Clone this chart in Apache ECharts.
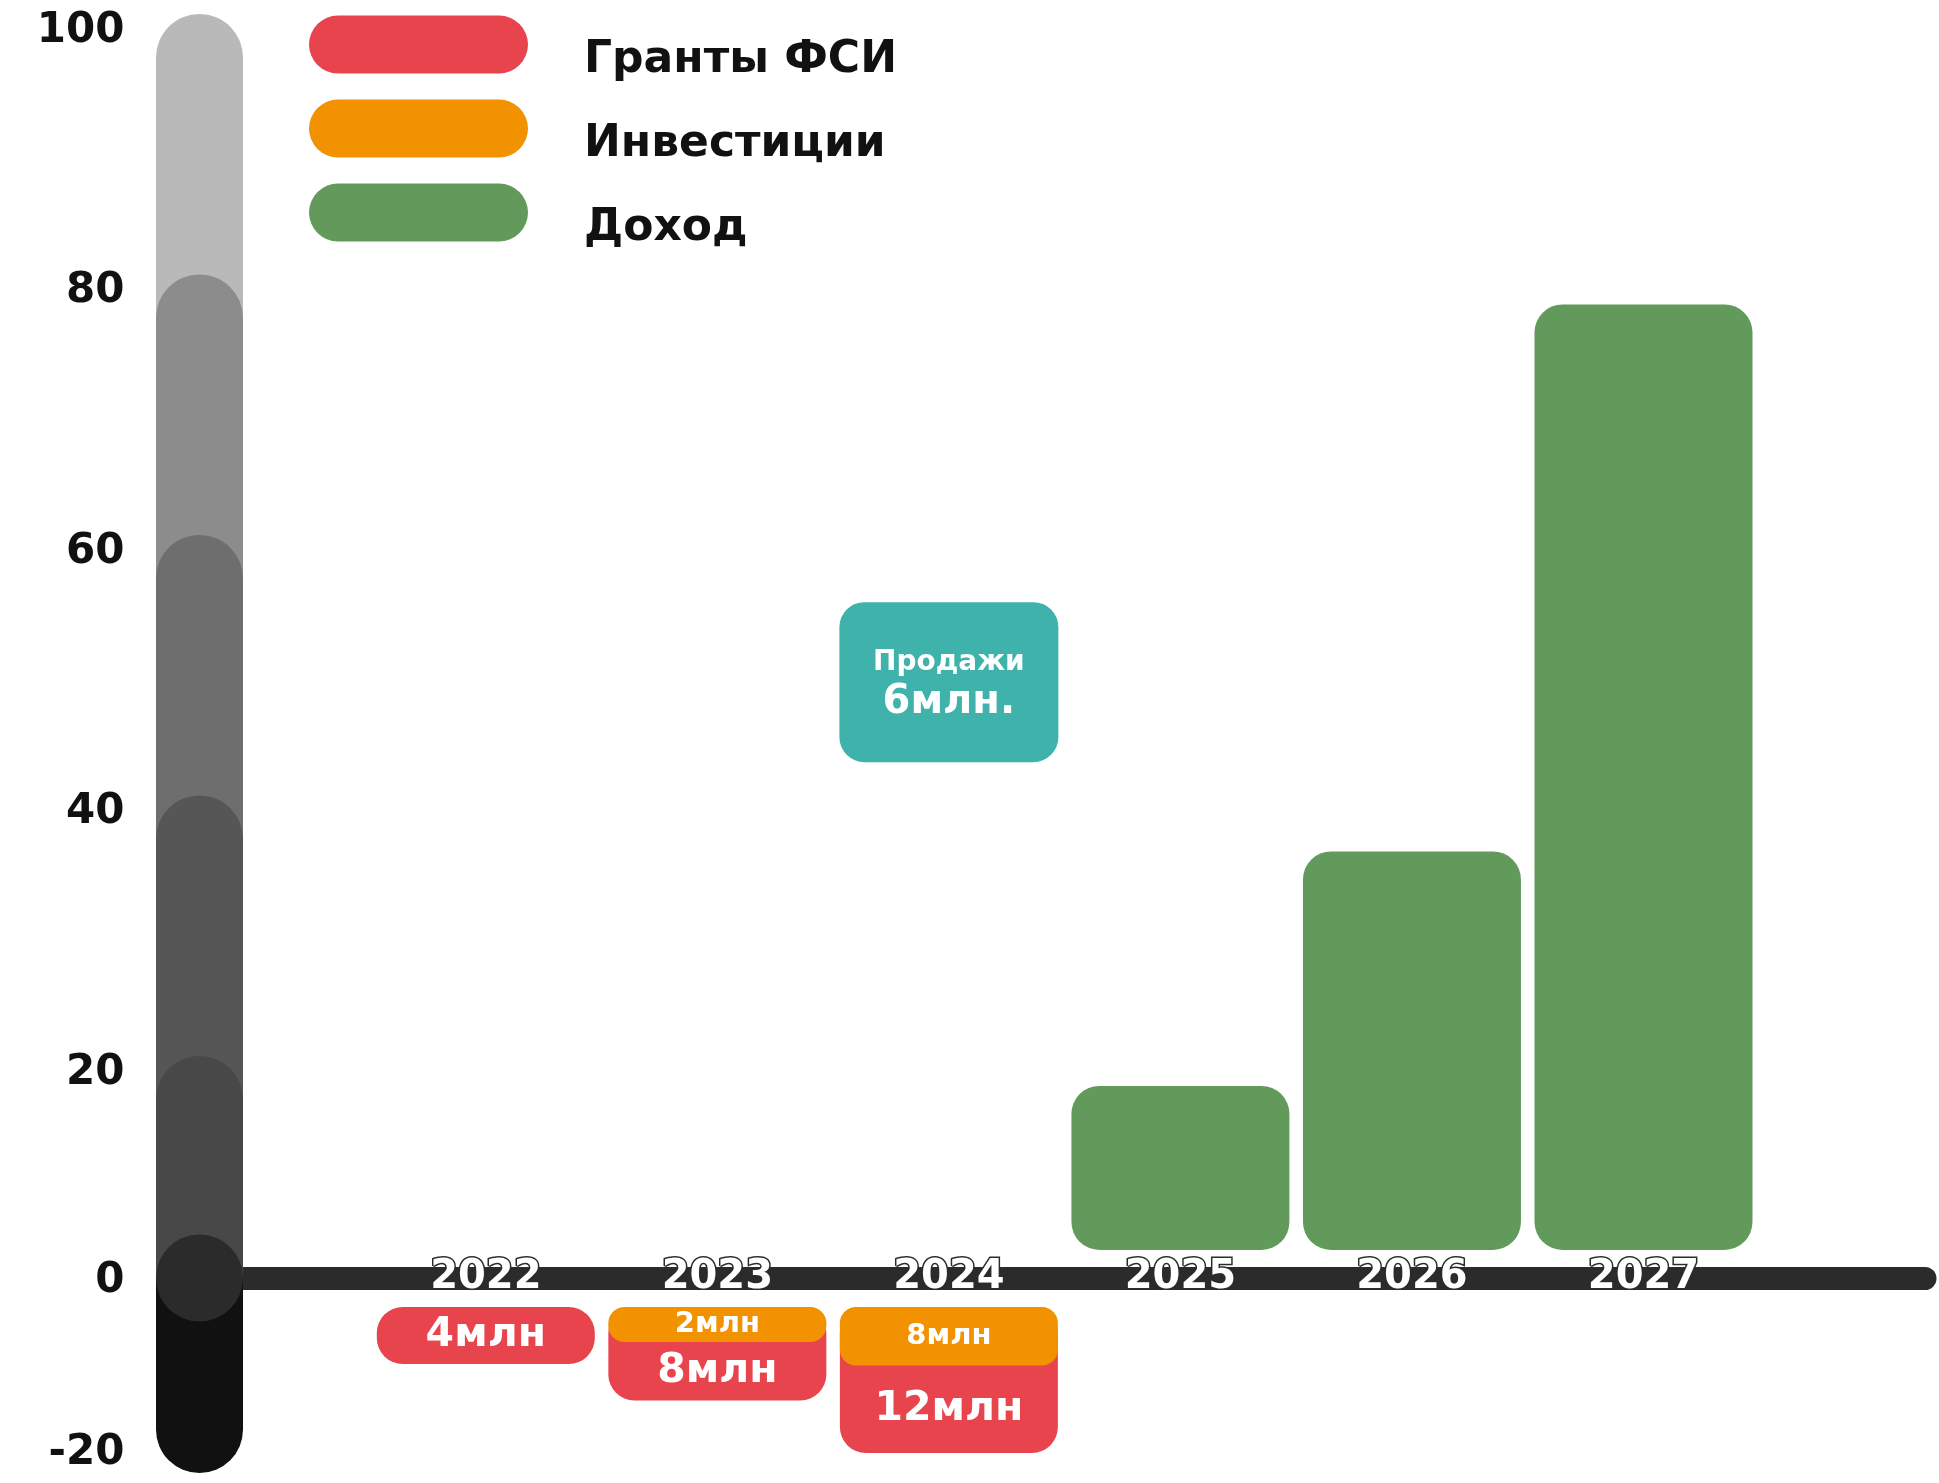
<!DOCTYPE html>
<html><head><meta charset="utf-8">
<script src="https://cdn.jsdelivr.net/npm/echarts@6/dist/echarts.min.js"></script>
<style>html,body{margin:0;padding:0;background:#fff}#chart{width:1939px;height:1483px}</style>
</head><body><div id="chart"></div>
<script>
// ---- data ----
const years = [2022, 2023, 2024, 2025, 2026, 2027];
const grants = [4, 8, 12, null, null, null];        // млн, Гранты ФСИ
const investments = [null, 2, 8, null, null, null]; // млн, Инвестиции
const revenue = [null, null, null, 19, 37, 79];     // Доход
const salesYear = 2024;
const sales = 6;                                    // Продажи, млн
const yTicks = [100, 80, 60, 40, 20, 0];
const negTicks = [-20];

// ---- styles / layout ----
const RED = '#e8444d', ORANGE = '#f29200', GREEN = '#629a5c', TEAL = '#3eb2ab', DARK = '#2b2b2b';
const scaleColors = ['#b9b9b9', '#8c8c8c', '#6e6e6e', '#565656', '#484848'];
const FONT = 'DejaVu Sans';
const X_MIN = 2020.7635, X_MAX = 2028.2158;
const BAR_W = 218, COL_W = 87, CAP = 17, AXIS_OFFSET = 28, LOWER_GAP = 29;
const MIN_INV_H = 35, MIN_GRANT_H = 57, BOX_Y = 50;
const PILL = 'path://M29,0H190A29,29,0,0,1,190,58H29A29,29,0,0,1,29,0Z';

const chart = echarts.init(document.getElementById('chart'));

const revData = years.map((y, i) => revenue[i] == null ? null : [y, revenue[i]]).filter(Boolean);
const grantData = years.map((y, i) => grants[i] == null ? null : [y, -grants[i], -(investments[i] || 0)]).filter(Boolean);
const invData = years.map((y, i) => investments[i] == null ? null : [y, -investments[i]]).filter(Boolean);

const yLabelStyle = { fontSize: 42, fontWeight: 'bold', color: '#111', fontFamily: FONT };

chart.setOption({
  animation: false,
  backgroundColor: '#fff',
  textStyle: { fontFamily: FONT },
  legend: {
    orient: 'vertical', left: 309, top: 6, padding: 0,
    itemWidth: 219, itemHeight: 58, itemGap: 7,
    formatter: name => '\n' + name,
    textStyle: { fontSize: 44, fontWeight: 'bold', color: '#111', fontFamily: FONT, lineHeight: 33, padding: [0, 0, 0, 51] },
    data: [
      { name: 'Гранты ФСИ', icon: PILL, itemStyle: { color: RED } },
      { name: 'Инвестиции', icon: PILL, itemStyle: { color: ORANGE } },
      { name: 'Доход', icon: PILL, itemStyle: { color: GREEN } }
    ]
  },
  grid: [
    { left: 199.5, right: 14, top: 31, bottom: 1483 - 1250 },
    { left: 199.5, right: 14, top: 1307, bottom: 30 }
  ],
  xAxis: [
    {
      gridIndex: 0, type: 'value', min: X_MIN, max: X_MAX, position: 'bottom', offset: AXIS_OFFSET,
      axisLine: { show: true, onZero: false, lineStyle: { color: DARK, width: 23, cap: 'round' } },
      axisTick: { show: false }, splitLine: { show: false },
      axisLabel: {
        customValues: years, margin: 0, verticalAlign: 'middle',
        color: '#fff', fontSize: 40, fontWeight: 'bold', fontFamily: FONT,
        textBorderColor: DARK, textBorderWidth: 3,
        formatter: v => String(Math.round(v))
      }
    },
    { gridIndex: 1, type: 'value', min: X_MIN, max: X_MAX, show: false }
  ],
  yAxis: [
    {
      gridIndex: 0, type: 'value', min: 0, max: 100,
      breaks: [{ start: 6, end: 12.4, gap: 0 }],
      breakArea: { show: false },
      axisLine: { show: false }, axisTick: { show: false }, splitLine: { show: false },
      axisLabel: Object.assign({
        customValues: yTicks, margin: 75, lineHeight: 62,
        formatter: v => v === 0 ? '\n0' : String(v)
      }, yLabelStyle)
    },
    {
      gridIndex: 1, type: 'value', min: -20, max: 0,
      axisLine: { show: false }, axisTick: { show: false }, splitLine: { show: false },
      axisLabel: Object.assign({ customValues: negTicks, margin: 75 }, yLabelStyle)
    }
  ],
  series: [
    {
      name: 'scale', type: 'custom', xAxisIndex: 0, yAxisIndex: 0, z: 1, silent: true,
      data: yTicks.filter(v => v > 0).map(v => [X_MIN, v]),
      renderItem: (params, api) => {
        const top = api.coord([api.value(0), api.value(1)]);
        const base = api.coord([api.value(0), 0]);
        const yTop = top[1] - CAP, yBot = base[1] + AXIS_OFFSET;
        return { type: 'rect', shape: { x: top[0] - COL_W / 2, y: yTop, width: COL_W, height: yBot - yTop, r: [COL_W / 2, COL_W / 2, 0, 0] },
                 style: { fill: scaleColors[params.dataIndex] } };
      }
    },
    {
      name: 'scaleNeg', type: 'custom', xAxisIndex: 1, yAxisIndex: 1, z: 3, silent: true,
      data: negTicks.map(v => [X_MIN, v]),
      renderItem: (params, api) => {
        const bot = api.coord([api.value(0), api.value(1)]);
        const zero = api.coord([api.value(0), 0]);
        const yTop = zero[1] - LOWER_GAP, yBot = bot[1] + 20;
        return { type: 'group', children: [
          { type: 'rect', shape: { x: bot[0] - COL_W / 2, y: yTop, width: COL_W, height: yBot - yTop, r: [0, 0, COL_W / 2, COL_W / 2] }, style: { fill: '#111' } },
          { type: 'circle', shape: { cx: bot[0], cy: yTop, r: COL_W / 2 }, style: { fill: DARK } }
        ] };
      }
    },
    {
      name: 'Доход', type: 'bar', xAxisIndex: 0, yAxisIndex: 0, z: 2,
      barWidth: BAR_W, data: revData,
      itemStyle: { color: GREEN, borderRadius: 28 }
    },
    {
      name: 'Гранты ФСИ', type: 'custom', xAxisIndex: 1, yAxisIndex: 1, z: 2,
      itemStyle: { color: RED },
      data: grantData,
      renderItem: (params, api) => {
        const p = api.coord([api.value(0), 0]);
        const g = -api.value(1), inv = -api.value(2);
        const hO = inv ? Math.max(api.size([0, inv])[1], MIN_INV_H) : 0;
        const hR = Math.max(api.size([0, g])[1], MIN_GRANT_H);
        const y0 = p[1];
        return { type: 'group', children: [
          { type: 'rect', shape: { x: p[0] - BAR_W / 2, y: y0, width: BAR_W, height: hO + hR, r: 26 }, style: { fill: RED } },
          { type: 'text', style: { x: p[0], y: y0 + hO + hR / 2, text: g + 'млн', fill: '#fff', font: 'bold 41px "DejaVu Sans"', align: 'center', verticalAlign: 'middle' } }
        ] };
      }
    },
    {
      name: 'Инвестиции', type: 'custom', xAxisIndex: 1, yAxisIndex: 1, z: 3,
      itemStyle: { color: ORANGE },
      data: invData,
      renderItem: (params, api) => {
        const p = api.coord([api.value(0), 0]);
        const inv = -api.value(1);
        const hO = Math.max(api.size([0, inv])[1], MIN_INV_H);
        const y0 = p[1];
        return { type: 'group', children: [
          { type: 'rect', shape: { x: p[0] - BAR_W / 2, y: y0, width: BAR_W, height: hO, r: 16 }, style: { fill: ORANGE } },
          { type: 'text', style: { x: p[0], y: y0 + hO / 2, text: inv + 'млн', fill: '#fff', font: 'bold 29px "DejaVu Sans"', align: 'center', verticalAlign: 'middle' } }
        ] };
      }
    },
    {
      name: 'Продажи', type: 'custom', xAxisIndex: 0, yAxisIndex: 0, z: 2,
      data: [[salesYear, BOX_Y, sales]],
      encode: { x: 0, y: 1 },
      renderItem: (params, api) => {
        const c = api.coord([api.value(0), api.value(1)]);
        return { type: 'group', children: [
          { type: 'rect', shape: { x: c[0] - 109.5, y: c[1] - 80, width: 219, height: 160, r: 25 }, style: { fill: TEAL } },
          { type: 'text', style: { x: c[0], y: c[1] - 19, text: 'Продажи', fill: '#fff', font: 'bold 28px "DejaVu Sans"', align: 'center', verticalAlign: 'middle' } },
          { type: 'text', style: { x: c[0], y: c[1] + 20, text: api.value(2) + 'млн.', fill: '#fff', font: 'bold 40px "DejaVu Sans"', align: 'center', verticalAlign: 'middle' } }
        ] };
      }
    }
  ]
});
</script>
</body></html>
